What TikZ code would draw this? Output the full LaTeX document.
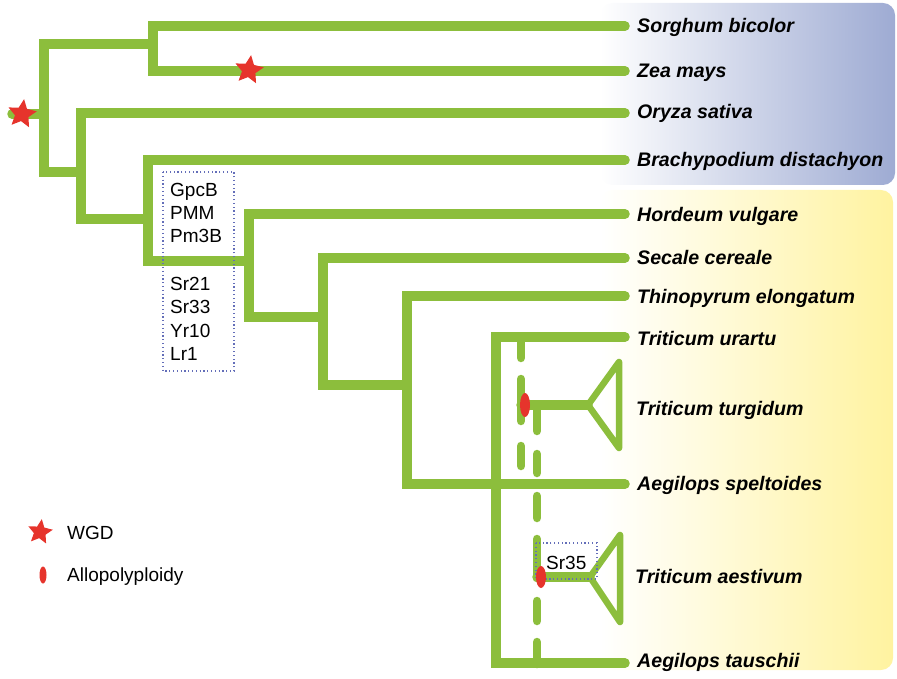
\documentclass[tikz,border=0pt]{standalone}
\usepackage{fontspec}
\setmainfont{Liberation Sans}
\usetikzlibrary{shapes.geometric}
\definecolor{branch}{RGB}{140,190,60}
\definecolor{event}{RGB}{230,52,44}
\definecolor{boxline}{RGB}{100,110,185}
\definecolor{grassbg}{RGB}{158,171,211}
\definecolor{wheatbg}{RGB}{255,243,160}
\tikzset{%
  br/.style={draw=branch, line width=9.5pt, line cap=round, line join=miter},
  hyb/.style={draw=branch, line width=8.5pt, line cap=round},
  tri/.style={draw=branch, line width=6.5pt, line join=round, line cap=round},
  taxon/.style={anchor=base west, inner sep=0pt, font=\fontsize{19.6}{19.6}\selectfont\bfseries\itshape},
  gene/.style={anchor=base west, inner sep=0pt, font=\fontsize{19}{19}\selectfont},
  genebox/.style={draw=boxline, line width=1.2pt, dash pattern=on 1.2pt off 2.6pt},
  wgd/.style={star, star points=5, star point ratio=2.1, fill=event, inner sep=0pt, minimum size=30pt, shape border rotate=-8},
}

\begin{document}
\begin{tikzpicture}[x=1pt, y=-1pt]
    \useasboundingbox (0,0) rectangle (897,679);

    %background panels
    \shade[left color=white, right color=grassbg, rounded corners=12pt] (600,3) rectangle (895,185);
    \shade[left color=white, right color=wheatbg, rounded corners=12pt] (600,190) rectangle (893,670);

    %branch tips
    \coordinate (sb) at (625,26);
    \coordinate (zm) at (625,71);
    \coordinate (os) at (625,113);
    \coordinate (bd) at (625,160);
    \coordinate (hv) at (625,214);
    \coordinate (sc) at (625,258);
    \coordinate (te) at (625,296);
    \coordinate (tu) at (625,337);
    \coordinate (as) at (625,484);
    \coordinate (at) at (625,663);

    %internal nodes
    \coordinate (R) at (12,114);
    \coordinate (N0) at (44,114);
    \coordinate (N1) at (153,44);
    \coordinate (N2) at (81,172);
    \coordinate (N3) at (148,219);
    \coordinate (N4) at (249,261);
    \coordinate (N5) at (323,317);
    \coordinate (N6) at (407,385);
    \coordinate (N7) at (496,484);

    %tree
    \draw[br] (R) -- (N0);
    \draw[br] (N1) -| (N0) |- (N2);
    \draw[br] (sb) -| (N1) |- (zm);
    \draw[br] (os) -| (N2) |- (N3);
    \draw[br] (bd) -| (N3) |- (N4);
    \draw[br] (hv) -| (N4) |- (N5);
    \draw[br] (sc) -| (N5) |- (N6);
    \draw[br] (te) -| (N6) |- (as);
    \draw[br] (tu) -| (N7) |- (at);

    %hybrid origins (dashed)
    \coordinate (H1) at (521,337);
    \coordinate (H1e) at (521,466);
    \coordinate (H2) at (537,407);
    \coordinate (H2e) at (537,664);
    \draw[hyb, dash pattern=on 21pt off 21pt on 42pt off 25pt on 20pt] (H1) -- (H1e);
    \draw[hyb, dash pattern=on 24pt off 23pt on 19pt off 23pt on 22pt off 21pt on 39pt off 23pt on 20pt off 21pt on 22pt] (H2) -- (H2e);

    % polyploid clades
    \coordinate (TG) at (588,405);
    \coordinate (TA) at (590,577);
    \draw[br] (521,405) -- (TG);
    \draw[br] (537,577) -- (TA);
    \draw[tri] (TG) -- (619,362) -- (619,448) -- cycle;
    \draw[tri] (TA) -- (620,535) -- (620,622) -- cycle;

    %gene boxes
    \draw[genebox] (163,172) rectangle (234,371);
    \foreach \g/\y [count=\i] in {GpcB/197,PMM/220,Pm3B/243,Sr21/290,Sr33/313,Yr10/337,Lr1/360}
        \node[gene] (g\i) at (170,\y) {\g};
    \draw[genebox] (536,543) rectangle (597,579);
    \node[gene] (sr35) at (546,569) {Sr35};

    %events
    \node[wgd] (w0) at (22,114) {};
    \node[wgd] (w1) at (249,70) {};
    \fill[event] (525,405) ellipse [x radius=5pt, y radius=12pt];
    \fill[event] (541,577) ellipse [x radius=5pt, y radius=11pt];

    %taxa
    \node[taxon] (Sbi) at (637,33) {Sorghum bicolor};
    \node[taxon] (Zma) at (637,78) {Zea mays};
    \node[taxon] (Osa) at (637,119) {Oryza sativa};
    \node[taxon] (Bdi) at (637,167) {Brachypodium distachyon};
    \node[taxon] (Hvu) at (637,222) {Hordeum vulgare};
    \node[taxon] (Sce) at (637,265) {Secale cereale};
    \node[taxon] (Tel) at (637,303) {Thinopyrum elongatum};
    \node[taxon] (Tur) at (637,345) {Triticum urartu};
    \node[taxon] (Ttu) at (636,415) {Triticum turgidum};
    \node[taxon] (Asp) at (637,490) {Aegilops speltoides};
    \node[taxon] (Tae) at (635,583) {Triticum aestivum};
    \node[taxon] (Ata) at (637,667) {Aegilops tauschii};

    %legend
    \node[wgd, minimum size=26pt] (lw) at (40,532) {};
    \node[gene] (lwt) at (67,539) {WGD};
    \fill[event] (43,575) ellipse [x radius=3.5pt, y radius=8.5pt];
    \node[gene] (lat) at (67,581) {Allopolyploidy};
\end{tikzpicture}
\end{document}
